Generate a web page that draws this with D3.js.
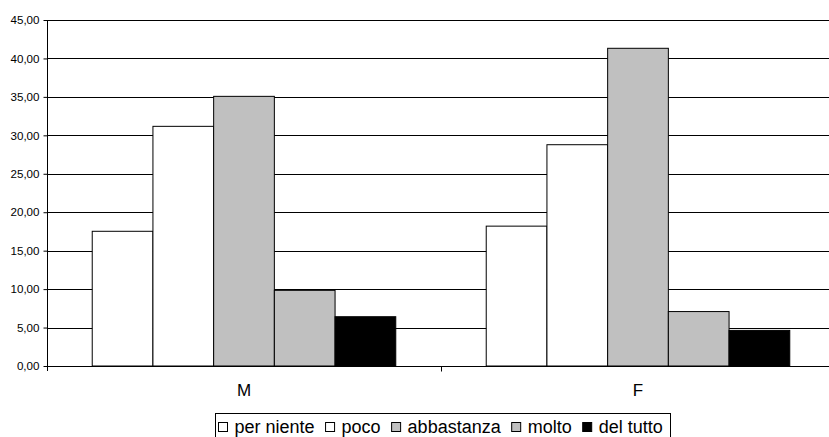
<!DOCTYPE html>
<html>
<head>
<meta charset="utf-8">
<script src="https://cdn.jsdelivr.net/npm/d3@7"></script>
<style>
  html, body { margin: 0; padding: 0; background: #fff; }
  svg { display: block; font-family: "Liberation Sans", Arial, sans-serif; }
</style>
</head>
<body>
<svg id="chart" width="829" height="437"></svg>
<script>
// Categories (gender) and response levels
const categories = ["M", "F"];
const seriesNames = ["per niente", "poco", "abbastanza", "molto", "del tutto"];
const seriesColors = ["#ffffff", "#ffffff", "#c0c0c0", "#c0c0c0", "#000000"];

// Percentages per response level, one array per category
const valuesM = [17.52, 31.17, 35.07, 9.84, 6.41];
const valuesF = [18.19, 28.78, 41.32, 7.08, 4.63];

const yTicks = [0, 5, 10, 15, 20, 25, 30, 35, 40, 45];

const table = [
  { cat: "M", values: valuesM },
  { cat: "F", values: valuesF }
];

const svg = d3.select("#chart");
const fmt = v => v.toFixed(2).replace(".", ",");

const plot = { left: 47, right: 835, top: 20, bottom: 366 };

const x0 = d3.scaleBand().domain(categories).range([plot.left, plot.right]).padding(0);
const x1 = d3.scaleBand().domain(seriesNames).range([0, x0.bandwidth()])
  .paddingInner(0).paddingOuter(0.745);
const y = d3.scaleLinear().domain([0, 45]).range([plot.bottom, plot.top]);

// Horizontal gridlines
svg.append("g")
  .selectAll("line")
  .data(yTicks.filter(t => t > 0))
  .join("line")
  .attr("x1", plot.left).attr("x2", plot.right)
  .attr("y1", d => Math.round(y(d)) + 0.5).attr("y2", d => Math.round(y(d)) + 0.5)
  .attr("stroke", "#000").attr("stroke-width", 1).attr("shape-rendering", "crispEdges");

// Bars
const groups = svg.append("g").selectAll("g")
  .data(table)
  .join("g")
  .attr("transform", d => `translate(${x0(d.cat)},0)`);

groups.selectAll("rect")
  .data(d => d.values.map((v, i) => ({ name: seriesNames[i], value: v, color: seriesColors[i] })))
  .join("rect")
  .attr("x", d => x1(d.name))
  .attr("y", d => y(d.value))
  .attr("width", x1.bandwidth())
  .attr("height", d => y(0) - y(d.value))
  .attr("fill", d => d.color)
  .attr("stroke", "#000")
  .attr("stroke-width", 1);

// Y axis
const yAxis = d3.axisLeft(y).tickValues(yTicks).tickFormat(fmt).tickSize(4).tickPadding(4);
const gy = svg.append("g")
  .attr("transform", `translate(${plot.left + 0.5},0)`)
  .call(yAxis);
gy.select(".domain").attr("d", `M0,${plot.top}V${plot.bottom + 5}`).attr("stroke", "#000");
gy.selectAll(".tick line").attr("stroke", "#000");
gy.selectAll(".tick text")
  .attr("font-size", "11.6px")
  .attr("fill", "#000")
  .attr("font-family", "Liberation Sans, Arial, sans-serif");

// X axis baseline with category divider ticks
const gx = svg.append("g").attr("transform", `translate(0,${plot.bottom + 0.5})`);
gx.append("line")
  .attr("x1", plot.left).attr("x2", plot.right)
  .attr("stroke", "#000").attr("stroke-width", 1);
gx.selectAll("line.div")
  .data(categories.slice(1))
  .join("line")
  .attr("class", "div")
  .attr("x1", d => Math.round(x0(d)) + 0.5).attr("x2", d => Math.round(x0(d)) + 0.5)
  .attr("y1", 0).attr("y2", 5)
  .attr("stroke", "#000");
gx.selectAll("text")
  .data(categories)
  .join("text")
  .attr("x", d => x0(d) + x0.bandwidth() / 2)
  .attr("y", 29.5)
  .attr("text-anchor", "middle")
  .attr("font-size", "17px")
  .attr("fill", "#000")
  .text(d => d);

// Legend
const legend = svg.append("g");
legend.append("rect")
  .attr("x", 215.5).attr("y", 413.5)
  .attr("width", 455).attr("height", 30)
  .attr("fill", "#fff").attr("stroke", "#000").attr("stroke-width", 1);

let lx = 218.5;
seriesNames.forEach((name, i) => {
  legend.append("rect")
    .attr("x", lx).attr("y", 422.5)
    .attr("width", 9).attr("height", 9)
    .attr("fill", seriesColors[i]).attr("stroke", "#000").attr("stroke-width", 1);
  const t = legend.append("text")
    .attr("x", lx + 16).attr("y", 433)
    .attr("font-size", "18px")
    .attr("fill", "#000")
    .text(name);
  lx += 16 + t.node().getComputedTextLength() + 11;
});
</script>
</body>
</html>
